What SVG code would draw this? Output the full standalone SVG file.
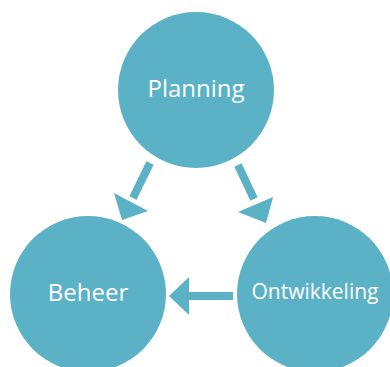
<svg xmlns="http://www.w3.org/2000/svg" width="390" height="367" viewBox="0 0 390 367">
<style>
.node{fill:#5bb1c6}
.lbl{font-family:"Open Sans","Noto Sans",sans-serif;font-size:24px;fill:#ffffff;text-anchor:middle}
.shaft{stroke:#5bb1c6;stroke-width:8;fill:none}
.head{fill:#5bb1c6}
</style>
<rect width="390" height="367" fill="#ffffff"/>
<g id="connectors">
<g id="planning-beheer">
<line class="shaft" x1="150" y1="163" x2="133" y2="198"/>
<polygon class="head" points="114,193 148,211 122,220"/>
</g>
<g id="planning-ontwikkeling">
<line class="shaft" x1="238" y1="165" x2="254" y2="199"/>
<polygon class="head" points="238,212 273,197 266,223"/>
</g>
<g id="ontwikkeling-beheer">
<line class="shaft" x1="233" y1="296" x2="187" y2="296"/>
<polygon class="head" points="189,277 189,315 169,296"/>
</g>
</g>
<g id="planning">
<circle class="node" cx="196" cy="90" r="78"/>
<text class="lbl" x="196" y="97">Planning</text>
</g>
<g id="beheer">
<circle class="node" cx="88" cy="294" r="78"/>
<text class="lbl" x="88" y="301">Beheer</text>
</g>
<g id="ontwikkeling">
<circle class="node" cx="315" cy="294" r="78"/>
<text class="lbl" x="315" y="299" style="font-size:21px">Ontwikkeling</text>
</g>
</svg>
